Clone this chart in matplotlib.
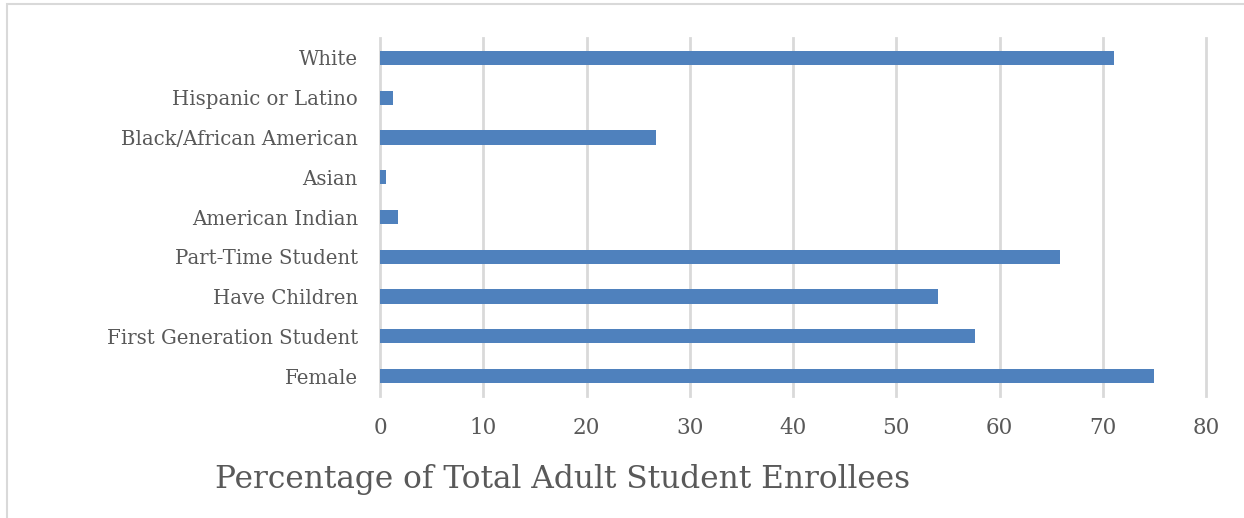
import matplotlib
matplotlib.use('Agg')
import matplotlib.pyplot as plt
from matplotlib.patches import Rectangle

categories = ['Female', 'First Generation Student', 'Have Children', 'Part-Time Student',
              'American Indian', 'Asian', 'Black/African American', 'Hispanic or Latino', 'White']
percent = [75.0, 57.6, 54.0, 65.9, 1.7, 0.55, 26.7, 1.3, 71.05]
xticks = [0, 10, 20, 30, 40, 50, 60, 70, 80]

W, H = 1244, 518
fig = plt.figure(figsize=(W/100., H/100.), dpi=100)
plt.rcParams['font.family'] = ['DejaVu Serif']
txtcol = '#595959'

# outer frame of the chart area
fig.patches.append(Rectangle((7./W, -0.1), 1.2, (H-4.)/H + 0.1, transform=fig.transFigure,
                             fill=False, edgecolor='#d9d9d9', linewidth=1.5))

ax = fig.add_axes([380./W, 1-396./H, (1206.-380.)/W, (396.-38.)/H])
ypos = list(range(len(categories)))
ax.barh(ypos, percent, height=0.36, color='#4f81bd', zorder=3)
ax.set_xlim(0, 80); ax.set_ylim(-0.5, len(categories)-0.5)
ax.set_xticks(xticks)
ax.set_yticks(ypos)
ax.set_yticklabels(categories)
ax.grid(True, axis='x', color='#d9d9d9', linewidth=2, zorder=0)
for gl in ax.get_xgridlines(): gl.set_clip_on(False)
for s in ax.spines.values(): s.set_visible(False)
ax.tick_params(axis='both', length=0, labelcolor=txtcol)
ax.tick_params(axis='y', pad=16, labelsize=14.2)
ax.tick_params(axis='x', pad=15, labelsize=15.5)
fig.text(215./W, 1-488./H, 'Percentage of Total Adult Student Enrollees', fontsize=22.5,
         color=txtcol, ha='left', va='baseline')

plt.savefig('out.png', dpi=100)
